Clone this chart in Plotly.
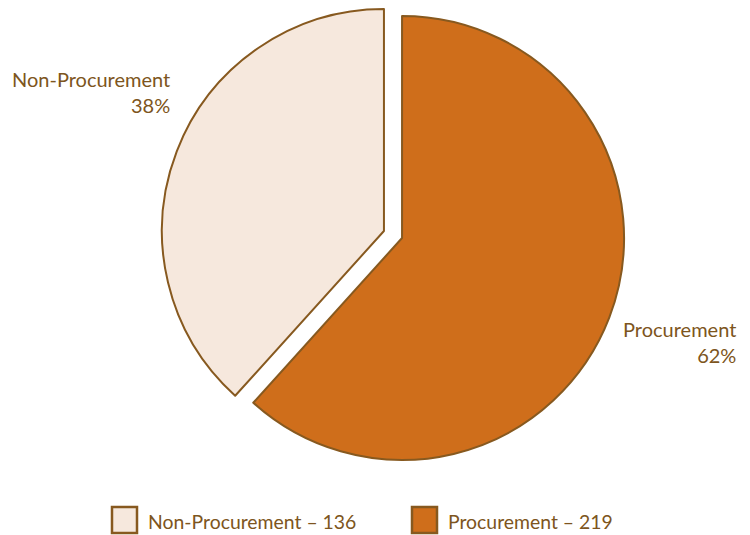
import plotly.graph_objects as go

labels = ["Procurement", "Non-Procurement"]
values = [219, 136]
colors = ["#CF6E1B", "#F6E8DD"]
legend_order = ["Non-Procurement", "Procurement"]

total = sum(values)
pcts = [round(v / total * 100) for v in values]

W, H = 750, 535
line_col = "#87591F"
text_col = "#7D5520"
font_fam = "Lato, 'Open Sans', sans-serif"

pull = 0.0437
fig = go.Figure()
fig.add_trace(go.Pie(
    labels=labels, values=values, sort=False, direction="clockwise", rotation=0,
    marker=dict(colors=colors, line=dict(color=line_col, width=2)),
    pull=[pull, pull], textinfo="none", hoverinfo="label+value+percent",
    showlegend=False,
    domain=dict(x=[161.3 / W, 624.7 / W], y=[1 - 466.2 / H, 1 - 2.8 / H]),
))

# slice labels
label_pos = {"Non-Procurement": (172, 92), "Procurement": (738, 342)}
for lab, p in zip(labels, pcts):
    x, y = label_pos[lab]
    fig.add_annotation(x=x / W, y=1 - y / H, xref="paper", yref="paper",
                       xanchor="right", yanchor="middle", align="right",
                       text=f"{lab}<br>{p}%", showarrow=False,
                       font=dict(family=font_fam, size=20, color=text_col))

# custom legend
leg_x = {"Non-Procurement": 112, "Procurement": 412}
for lab in legend_order:
    i = labels.index(lab)
    x0 = leg_x[lab]
    fig.add_shape(type="rect", xref="paper", yref="paper",
                  x0=x0 / W, x1=(x0 + 25) / W, y0=1 - 533 / H, y1=1 - 507 / H,
                  fillcolor=colors[i], line=dict(color=line_col, width=2.5))
    fig.add_annotation(x=(x0 + 34) / W, y=1 - 521 / H, xref="paper", yref="paper",
                       xanchor="left", yanchor="middle",
                       text=f"{lab} – {values[i]}", showarrow=False,
                       font=dict(family=font_fam, size=19.4, color=text_col))

fig.update_layout(width=W, height=H, margin=dict(l=0, r=0, t=0, b=0),
                  paper_bgcolor="white", plot_bgcolor="white")
fig.write_html("out.html")
